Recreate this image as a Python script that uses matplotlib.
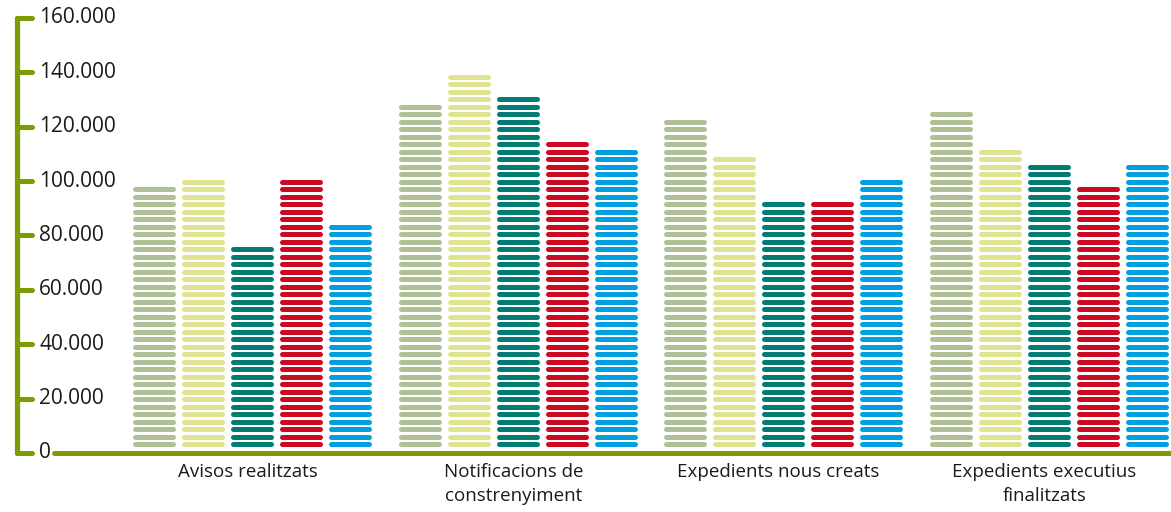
import matplotlib
matplotlib.use("Agg")
import matplotlib.pyplot as plt
import numpy as np

plt.rcParams['font.family'] = ['Open Sans', 'DejaVu Sans']

# dades llegides del gràfic
categories = ["Avisos realitzats", "Notificacions de\nconstrenyiment",
              "Expedients nous creats", "Expedients executius\nfinalitzats"]
serie_1 = [98000, 128700, 122800, 125800]   # verd sàlvia
serie_2 = [100800, 139800, 109200, 111800]  # groc
serie_3 = [75800, 131300, 92300, 106300]    # verd petroli
serie_4 = [100800, 114700, 92300, 98200]    # vermell
serie_5 = [84200, 111800, 100800, 106300]   # blau
yticks = [0, 20000, 40000, 60000, 80000, 100000, 120000, 140000, 160000]
ytick_labels = ["0", "20.000", "40.000", "60.000", "80.000",
                "100.000", "120.000", "140.000", "160.000"]

series = [serie_1, serie_2, serie_3, serie_4, serie_5]
colors = ["#afc096", "#dfe290", "#007c75", "#cd0921", "#009fe0"]
green = "#7c9c04"

W, H = 1171, 512
fig = plt.figure(figsize=(W / 100, H / 100), dpi=100)
# eixos: x en píxels del gràfic, y en valors
y0_px, y1_px = 453, 18
ax = fig.add_axes([0, 1 - y0_px / H, 1, (y0_px - y1_px) / H])
ax.set_xlim(0, W)
ax.set_ylim(0, 160000)
ax.axis("off")

px = 160000 / (y0_px - y1_px)   # unitats per píxel vertical

# posicions de les barres (píxels)
group_centers = [252, 517.5, 782.5, 1048.5]
bar_pitch = 49
bar_w = 43
seg_h = 5          # alçada de cada tros
step = 7.5 * px    # distància entre trossos
offset = 9 * px    # centre del primer tros
lw = seg_h * 72 / 100

for gi, gc in enumerate(group_centers):
    for si, vals in enumerate(series):
        xc = gc + (si - 2) * bar_pitch
        v = vals[gi]
        n = int(round((v - seg_h / 2 * px - offset) / step)) + 1
        ys = offset + np.arange(n) * step
        for yy in ys:
            ax.plot([xc - bar_w / 2 + seg_h / 2, xc + bar_w / 2 - seg_h / 2], [yy, yy],
                    color=colors[si], lw=lw, solid_capstyle="round", clip_on=False)

# eix vertical i marques
ax.plot([17, 17], [0, 160000], color=green, lw=3.8, solid_capstyle="round", clip_on=False)
for t, lab in zip(yticks, ytick_labels):
    ax.plot([17, 32], [t, t], color=green, lw=3.6, solid_capstyle="round", clip_on=False)
    ax.text(39, t, lab, ha="left", va="center", fontsize=15, color="#1a1a1a")
# eix horitzontal
ax.plot([54, W + 10], [0, 0], color=green, lw=3.6, solid_capstyle="round", clip_on=False)

# etiquetes de categoria
for gc, cat in zip(group_centers, categories):
    fig.text((gc - 4) / W, 1 - 463 / H, cat, ha="center", va="top", fontsize=13.5,
             color="#1a1a1a", linespacing=1.4)

fig.savefig("out.png", dpi=100)
